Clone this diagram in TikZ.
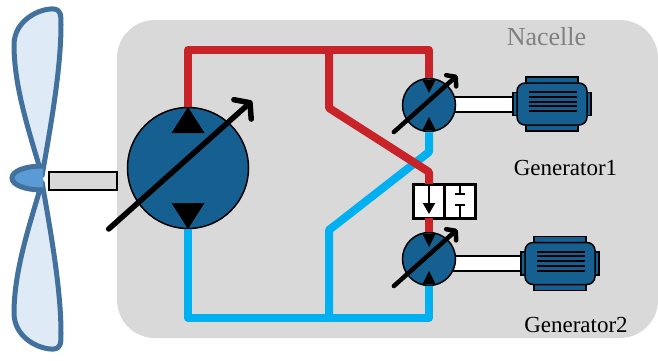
\documentclass[tikz,border=0pt]{standalone}
\usepackage{fontspec}
\setmainfont{Liberation Serif}
\usetikzlibrary{calc,positioning,arrows.meta,backgrounds}
\definecolor{oil}{RGB}{200,35,40}
\definecolor{ret}{RGB}{0,176,240}
\definecolor{steel}{RGB}{22,96,145}
\definecolor{bladeedge}{RGB}{65,113,156}
\definecolor{bladefill}{RGB}{222,235,247}
\definecolor{hubblue}{RGB}{91,155,213}
\definecolor{shell}{RGB}{217,217,217}

\begin{document}
\begin{tikzpicture}[x=1pt,y=-1pt,
    pump/.style={circle,draw,line width=1.5pt,fill=steel,inner sep=0pt},
    gen/.style={rectangle,rounded corners=8pt,draw,line width=1.5pt,fill=steel,
      minimum width=70pt,minimum height=42pt},
    valve/.style={rectangle,draw,line width=3pt,fill=white,outer sep=0pt,
      minimum width=31pt,minimum height=34pt},
    hot/.style={oil,line width=8pt,line join=round},
    cold/.style={ret,line width=8pt,line join=round},
    shaft/.style={line width=2pt,double=white,double distance=13pt},
    blade/.style={bladeedge,line width=5pt,line join=round,fill=bladefill},
    lbl/.style={font=\fontsize{23}{23}\selectfont,anchor=base}]
  \useasboundingbox (0,0) rectangle (658,360);

  % rotor: two blades and the hub
  \draw[blade] (42,176) .. controls (32,140) and (14,90) .. (14,45)
    .. controls (14,20) and (40,8) .. (54,9) .. controls (61,10) and (61,15) .. (61,25)
    .. controls (61,70) and (50,130) .. (42,176) -- cycle;
  \draw[blade] (42,182) .. controls (32,218) and (14,268) .. (14,313)
    .. controls (14,338) and (40,350) .. (54,349) .. controls (61,348) and (61,343) .. (61,333)
    .. controls (61,288) and (50,228) .. (42,182) -- cycle;
  \fill[hubblue] (43,166) .. controls (25,166) and (12,171) .. (12,178)
    .. controls (12,185) and (25,190) .. (43,190) -- cycle;
  \draw[bladeedge,line width=5pt] (43,166) .. controls (25,166) and (12,171) .. (12,178)
    .. controls (12,185) and (25,190) .. (43,190);
  \draw[fill=shell,line width=1.2pt] (49,172) rectangle (117,190);

  % pump and the two motors
  \node[pump,minimum size=121pt] (main) at (188,168) {};
  \node[pump,minimum size=53pt] (m1) at (429,105) {};
  \node[pump,minimum size=53pt] (m2) at (429,259) {};
  \foreach \p/\a/\b/\w in {main/61/35/16.5, m1/12/25/6.5, m2/12/25/6.5} {
    \fill ($(\p)+(0,-\a)$) -- ($(\p)+(-\w,-\b)$) -- ($(\p)+(\w,-\b)$) -- cycle;
    \fill ($(\p)+(0,\a)$) -- ($(\p)+(-\w,\b)$) -- ($(\p)+(\w,\b)$) -- cycle;
  }
  \foreach \p/\r/\lw/\hl/\hw in {main/61/5.5/10/26, m1/27/4.5/6/15, m2/27/4.5/6/15}
    \draw[line width=\lw pt,line cap=round,-{Straight Barb[round,length=\hl pt,width=\hw pt]}]
      ($(\p)+(-1.3*\r,\r)$) -- ($(\p)+(1.05*\r,-1.1*\r)$);

  % generators
  \foreach \gx/\gy/\g in {552/104/g1, 560/263.5/g2} {
    \begin{scope}[shift={(\gx,\gy)},line width=1.5pt]
      \draw[fill=steel] (-26,-27) rectangle (26,-19);
      \draw[fill=steel] (-26,19) rectangle (26,27);
      \draw[fill=steel] (-39,-11.5) rectangle (-33,11.5);
      \draw[fill=steel] (33,-11.5) rectangle (39,11.5);
      \node[gen] (\g) at (0,0) {};
      \foreach \y in {-12,-7.25,-2.5,2.25,7}
        \draw[line width=2pt] (-23,\y) -- (25,\y);
    \end{scope}
  }

  % directional valve
  \node[valve] (vl) at (429,201) {};
  \node[valve,right=0pt of vl] (vr) {};
  \draw[line width=2pt,-{Triangle[length=11pt,width=12pt]}] (vl.north) -- ([yshift=4pt]vl.south);
  \draw[line width=2pt] (vr.north) -- ++(0,10) ++(-5,0) -- ++(10,0);
  \draw[line width=2pt] (vr.south) -- ++(0,-13) ++(-5,0) -- ++(10,0);

  % nacelle and shafts behind everything
  \begin{scope}[on background layer]
    \fill[shell,rounded corners=38pt] (117,20) rectangle (658,338);
    \draw[shaft] (m1 |- g1) -- (g1.west);
    \draw[shaft] (m2 |- g2) -- (g2.west);
  \end{scope}

  % return lines, then pressure lines
  \coordinate (lo) at (329,318);
  \coordinate (hi) at (329,50);
  \draw[cold] (main.south) |- (lo) -| (m2.south);
  \draw[cold] (lo) -- (329,230) -- (429,152) -- (m1.south);
  \draw[hot] (main.north) |- (hi) -| (m1.north);
  \draw[hot] (hi) -- (329,108) -- (429,172) -- (vl.north);
  \draw[hot] (vl.south) -- (m2.north);

  \node[lbl,font=\fontsize{26}{26}\selectfont,text=black!50] (nac) at (546.5,45) {Nacelle};
  \node[lbl] (lab1) at (565.5,175) {Generator1};
  \node[lbl] (lab2) at (576,332) {Generator2};
\end{tikzpicture}
\end{document}
